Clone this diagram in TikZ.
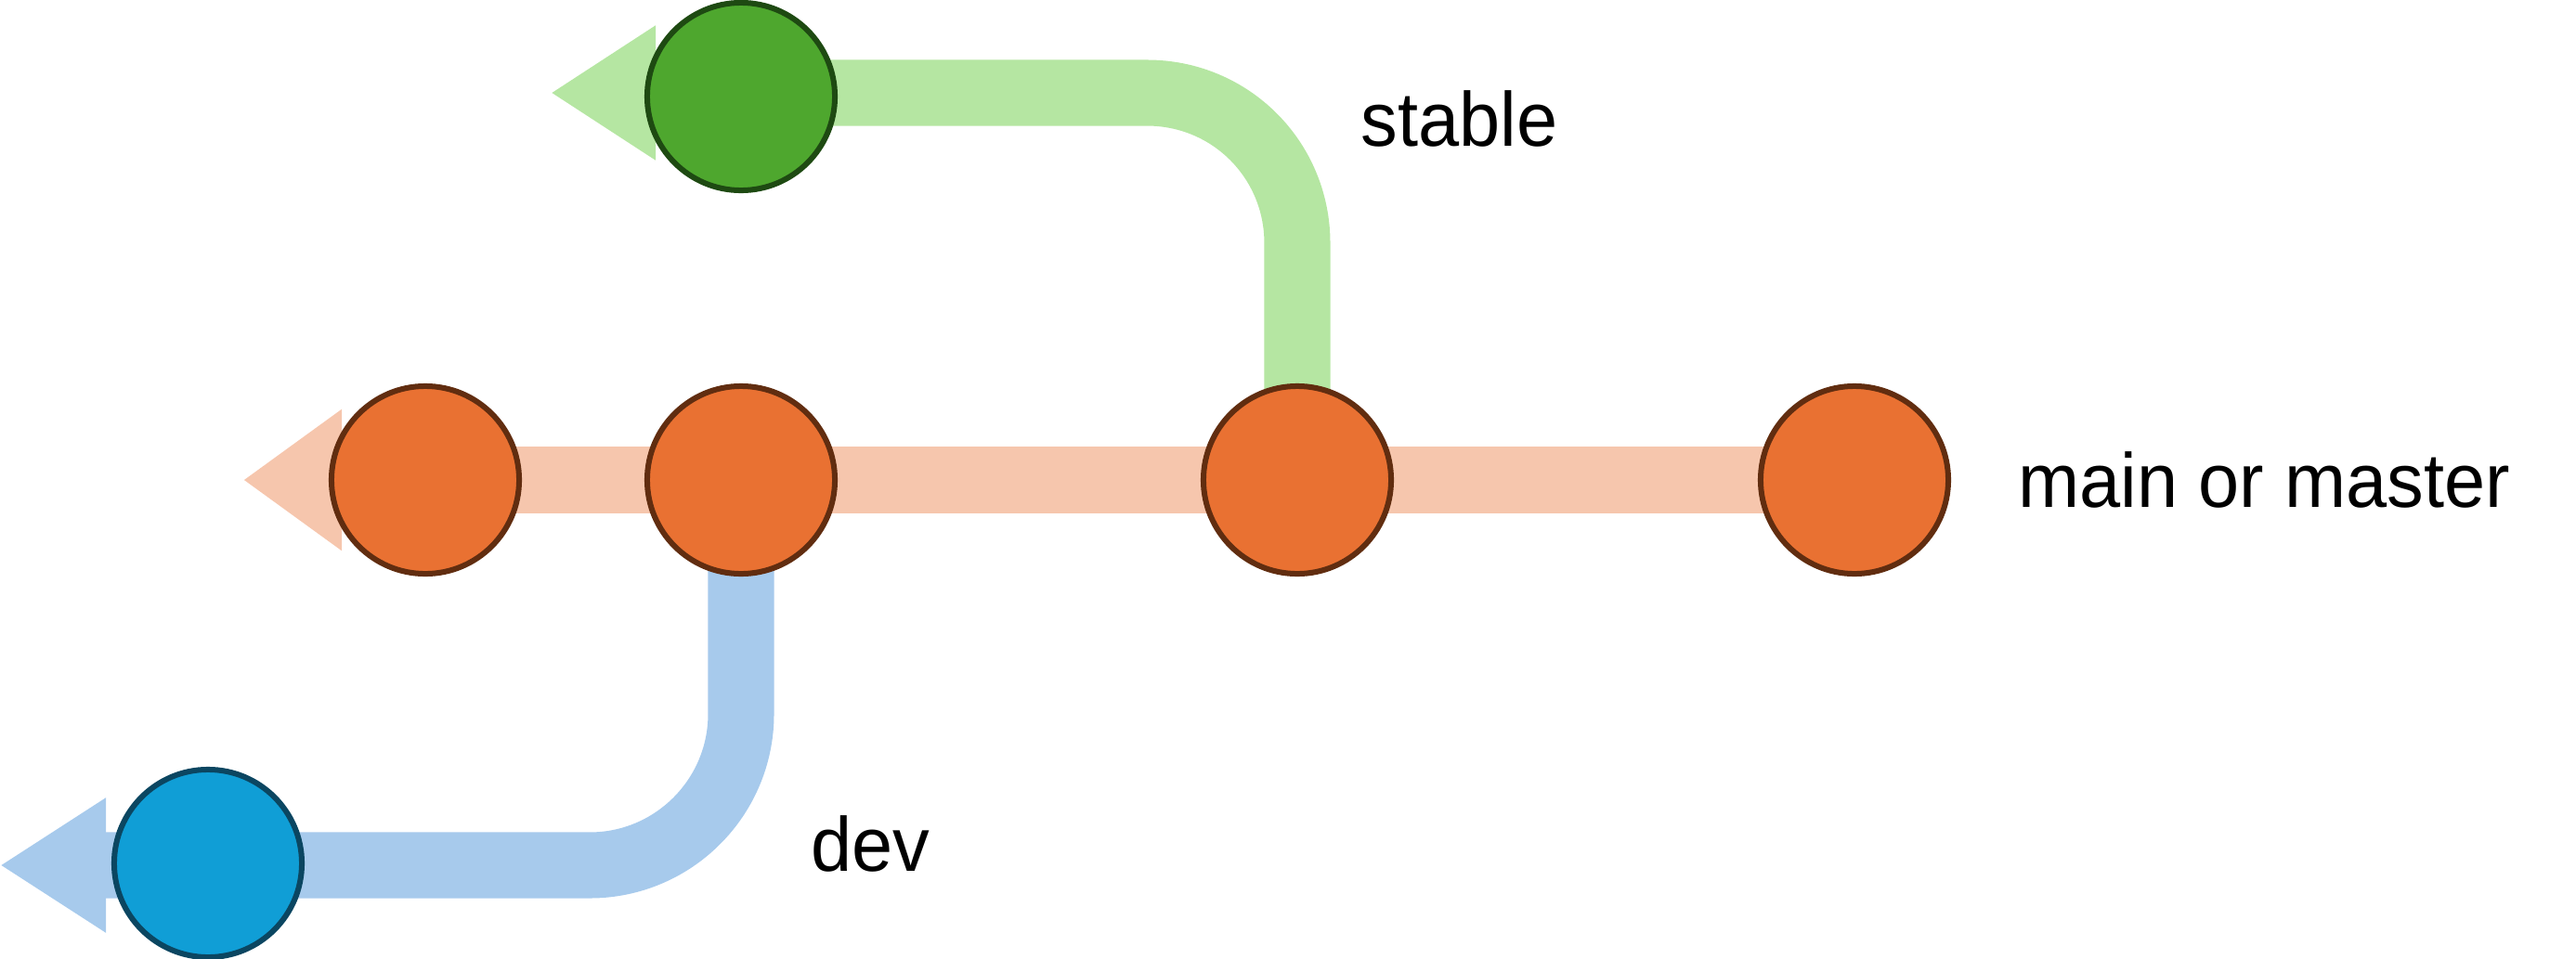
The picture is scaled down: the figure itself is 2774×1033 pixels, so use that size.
\documentclass[tikz,border=0pt]{standalone}
\usepackage{fontspec}
\setmainfont[FakeStretch=0.96]{Liberation Sans}
\usetikzlibrary{arrows.meta,backgrounds}
\definecolor{orF}{HTML}{E97132}
\definecolor{orD}{HTML}{612D10}
\definecolor{orL}{HTML}{F6C6AD}
\definecolor{grF}{HTML}{4EA72E}
\definecolor{grD}{HTML}{1E4A12}
\definecolor{grL}{HTML}{B5E6A2}
\definecolor{blF}{HTML}{109ED6}
\definecolor{blD}{HTML}{0B4661}
\definecolor{blL}{HTML}{A7CAEC}
\begin{document}
\begin{tikzpicture}[x=0.01cm,y=-0.01cm,
  commit/.style={circle,minimum size=2.02cm,inner sep=0pt,line width=0.06cm},
  ocommit/.style={commit,fill=orF,draw=orD},
  gcommit/.style={commit,fill=grF,draw=grD},
  bcommit/.style={commit,fill=blF,draw=blD},
  branch/.style={line width=0.71cm,line cap=butt,line join=round},
  lbl/.style={anchor=base west,inner sep=0pt,font=\fontsize{23.5}{28}\selectfont}]
\useasboundingbox (0,0) rectangle (2774,1033);
% commits
\node[ocommit] (o1) at (458,517) {};
\node[ocommit] (o2) at (798,517) {};
\node[ocommit] (o3) at (1397,517) {};
\node[ocommit] (o4) at (1997,517) {};
\node[gcommit] (g1) at (798,104) {};
\node[bcommit] (b1) at (224,930) {};
\coordinate (mtip) at (262,517);
\coordinate (gtip) at (593,100);
\coordinate (btip) at (0,932);
% branch lines
\begin{pgfonlayer}{background}
\draw[branch,draw=orL,-{Triangle[length=1.06cm,width=1.45cm]}] (o4.center) -- (mtip);
\draw[branch,draw=grL,-{Triangle[length=1.13cm,width=1.37cm]}] (o3.center) -- ++(0,-255)
  .. controls +(0,-90) and +(90,0) .. ++(-162,-162) -- (gtip);
\draw[branch,draw=blL,-{Triangle[length=1.14cm,width=1.37cm]}] (o2.center) -- ++(0,252)
  .. controls +(0,90) and +(90,0) .. ++(-163,163) -- (btip);
\end{pgfonlayer}
% labels
\node[lbl] (ls) at (1465,157) {stable};
\node[lbl] (lm) at (2173,546) {main or master};
\node[lbl] (ld) at (873,938) {dev};
\end{tikzpicture}
\end{document}
